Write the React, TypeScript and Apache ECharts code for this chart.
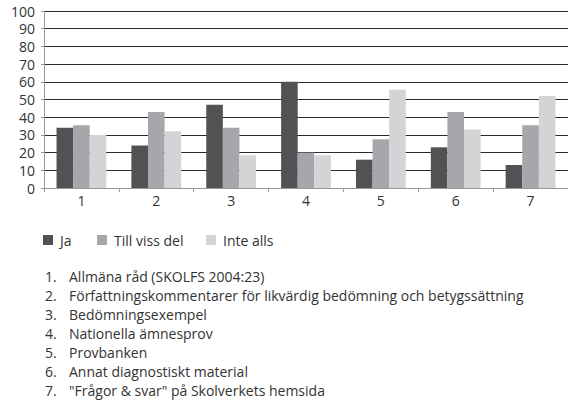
import React, { useEffect, useRef } from "react";
import * as echarts from "echarts";

const categories = ["1", "2", "3", "4", "5", "6", "7"];
const seriesNames = ["Ja", "Till viss del", "Inte alls"];
const jaValues = [34, 24, 47, 60, 16, 23, 13];
const tillVissDelValues = [35.5, 43, 34, 20, 27.5, 43, 35.5];
const inteAllsValues = [30, 32, 18.5, 18.5, 55.5, 33, 52];
const itemDescriptions = [
  "Allmäna råd (SKOLFS 2004:23)",
  "Författningskommentarer för likvärdig bedömning och betygssättning",
  "Bedömningsexempel",
  "Nationella ämnesprov",
  "Provbanken",
  "Annat diagnostiskt material",
  "\"Frågor & svar\" på Skolverkets hemsida",
];

const colors = ["#525254", "#a6a7aa", "#d3d4d6"];
const FONT = "'Open Sans', 'DejaVu Sans', sans-serif";
const legendLefts = [43, 97, 206];

export default function App() {
  const ref = useRef<HTMLDivElement>(null);
  useEffect(() => {
    if (!ref.current) return;
    const chart = echarts.init(ref.current, null, { renderer: "svg" });
    const values = [jaValues, tillVissDelValues, inteAllsValues];
    const listGraphics: any[] = [];
    itemDescriptions.forEach((d, i) => {
      const y = 276.5 + i * 18.95;
      listGraphics.push({
        type: "text",
        x: 45,
        y,
        style: { text: `${i + 1}.`, font: `14px ${FONT}`, fill: "#333", verticalAlign: "middle" },
      });
      listGraphics.push({
        type: "text",
        x: 69,
        y,
        style: { text: d, font: `14px ${FONT}`, fill: "#333", verticalAlign: "middle" },
      });
    });
    chart.setOption({
      animation: false,
      color: colors,
      grid: { left: 44, top: 11, right: -8, bottom: 217, containLabel: false },
      legend: seriesNames.map((name, i) => ({
        left: legendLefts[i],
        top: 233,
        padding: 0,
        itemWidth: 10,
        itemHeight: 10,
        icon: "rect",
        data: [name],
        textStyle: { fontFamily: FONT, fontSize: 14, color: "#333", padding: [0, 0, 0, 2] },
      })),
      xAxis: {
        type: "category",
        data: categories,
        axisLine: { lineStyle: { color: "#999", width: 1 } },
        axisTick: { show: true, length: 4, lineStyle: { color: "#999" } },
        axisLabel: { fontFamily: FONT, fontSize: 14, color: "#333", margin: 5 },
      },
      yAxis: {
        type: "value",
        min: 0,
        max: 100,
        interval: 10,
        axisLine: { show: true, lineStyle: { color: "#999", width: 1 } },
        axisTick: { show: true, length: 3, lineStyle: { color: "#999" } },
        axisLabel: { fontFamily: FONT, fontSize: 14, color: "#333", margin: 9 },
        splitLine: { lineStyle: { color: "#2a2a2a", width: 1 } },
      },
      series: seriesNames.map((name, i) => ({
        name,
        type: "bar",
        data: values[i],
        barWidth: 16.6,
        barGap: "0%",
        itemStyle: { color: colors[i] },
      })),
      graphic: listGraphics,
    });
    return () => chart.dispose();
  }, []);
  return (
    <div
      ref={ref}
      style={{ position: "fixed", left: 0, top: 0, width: 568, height: 405, background: "#fff" }}
    />
  );
}
